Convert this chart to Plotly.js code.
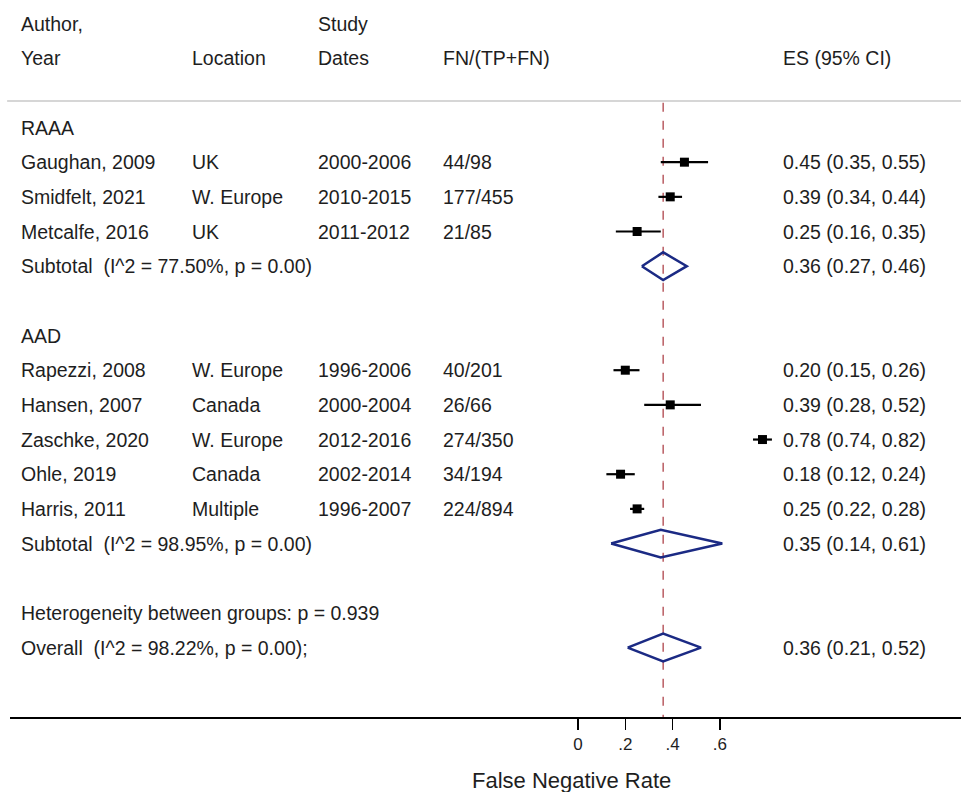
<!DOCTYPE html>
<html>
<head>
<meta charset="utf-8">
<script src="https://cdn.plot.ly/plotly-3.0.1.min.js"></script>
<style>html,body{margin:0;padding:0;background:#fff;}#chart{width:961px;height:792px;}</style>
</head>
<body>
<div id="chart"></div>
<script>
// ---- data ----
const raaaStudies   = ["Gaughan, 2009", "Smidfelt, 2021", "Metcalfe, 2016"];
const raaaLocations = ["UK", "W. Europe", "UK"];
const raaaDates     = ["2000-2006", "2010-2015", "2011-2012"];
const raaaCounts    = ["44/98", "177/455", "21/85"];
const raaaES        = [0.45, 0.39, 0.25];
const raaaLo        = [0.35, 0.34, 0.16];
const raaaHi        = [0.55, 0.44, 0.35];
const raaaSubtotal  = {label: "Subtotal\u00a0\u00a0(I^2 = 77.50%, p = 0.00)", es: 0.36, lo: 0.27, hi: 0.46};

const aadStudies   = ["Rapezzi, 2008", "Hansen, 2007", "Zaschke, 2020", "Ohle, 2019", "Harris, 2011"];
const aadLocations = ["W. Europe", "Canada", "W. Europe", "Canada", "Multiple"];
const aadDates     = ["1996-2006", "2000-2004", "2012-2016", "2002-2014", "1996-2007"];
const aadCounts    = ["40/201", "26/66", "274/350", "34/194", "224/894"];
const aadES        = [0.20, 0.39, 0.78, 0.18, 0.25];
const aadLo        = [0.15, 0.28, 0.74, 0.12, 0.22];
const aadHi        = [0.26, 0.52, 0.82, 0.24, 0.28];
const aadSubtotal  = {label: "Subtotal\u00a0\u00a0(I^2 = 98.95%, p = 0.00)", es: 0.35, lo: 0.14, hi: 0.61};

const heterogeneityText = "Heterogeneity between groups: p = 0.939";
const overall = {label: "Overall\u00a0\u00a0(I^2 = 98.22%, p = 0.00);", es: 0.36, lo: 0.21, hi: 0.52};

const tickVals = [0, 0.2, 0.4, 0.6];
const tickText = ["0", ".2", ".4", ".6"];
const xTitle = "False Negative Rate";

// ---- layout helpers ----
const W = 961, H = 792, ML = 10, MB = 75;
const plotW = W - ML, plotH = H - MB;
const zeroPx = 578, pxPerUnit = 236.5;
const xRange = [(ML - zeroPx) / pxPerUnit, (W - zeroPx) / pxPerUnit];
const rowPx0 = 23.5, rowStep = 34.67;
const yRange = [(plotH - rowPx0) / rowStep, -rowPx0 / rowStep];
const colPx = {author: 19, loc: 190, dates: 316, counts: 441, es: 781};
const px2paper = p => (p - ML) / plotW;

const fontFam = "Arial, 'Liberation Sans', sans-serif";
const txtColor = "#1e1e1e";
const fs = 19.5;
const fmt = v => v.toFixed(2);
const esStr = (e, l, h) => `${fmt(e)} (${fmt(l)}, ${fmt(h)})`;

const annotations = [];
function txt(col, row, s) {
  annotations.push({xref: "paper", yref: "y", x: px2paper(colPx[col]), y: row, text: s,
    showarrow: false, xanchor: "left", yanchor: "middle",
    font: {family: fontFam, size: fs, color: txtColor}});
}

// headers
txt("author", 0, "Author,"); txt("dates", 0, "Study");
txt("author", 1, "Year"); txt("loc", 1, "Location"); txt("dates", 1, "Dates");
txt("counts", 1, "FN/(TP+FN)"); txt("es", 1, "ES (95% CI)");

// rows
const studyRows = [], studyES = [], studyPlus = [], studyMinus = [];
const diamondX = [], diamondY = [];
const diamondHalf = 0.4;
function addDiamond(d, row) {
  diamondX.push(d.lo, d.es, d.hi, d.es, d.lo, null);
  diamondY.push(row, row - diamondHalf, row, row + diamondHalf, row, null);
}
function addGroup(name, startRow, studies, locs, dates, counts, es, lo, hi, sub) {
  txt("author", startRow, name);
  studies.forEach((s, i) => {
    const r = startRow + 1 + i;
    txt("author", r, s); txt("loc", r, locs[i]); txt("dates", r, dates[i]);
    txt("counts", r, counts[i]); txt("es", r, esStr(es[i], lo[i], hi[i]));
    studyRows.push(r); studyES.push(es[i]);
    studyPlus.push(hi[i] - es[i]); studyMinus.push(es[i] - lo[i]);
  });
  const sr = startRow + 1 + studies.length;
  txt("author", sr, sub.label); txt("es", sr, esStr(sub.es, sub.lo, sub.hi));
  addDiamond(sub, sr);
  return sr;
}
let r = addGroup("RAAA", 3, raaaStudies, raaaLocations, raaaDates, raaaCounts, raaaES, raaaLo, raaaHi, raaaSubtotal);
r = addGroup("AAD", r + 2, aadStudies, aadLocations, aadDates, aadCounts, aadES, aadLo, aadHi, aadSubtotal);
txt("author", r + 2, heterogeneityText);
txt("author", r + 3, overall.label); txt("es", r + 3, esStr(overall.es, overall.lo, overall.hi));
addDiamond(overall, r + 3);

annotations.push({xref: "paper", yref: "paper", x: px2paper(571), y: -(780 - plotH) / plotH,
  text: xTitle, showarrow: false, xanchor: "center", yanchor: "middle",
  font: {family: fontFam, size: 22, color: txtColor}});

const sepRow = (101 - rowPx0) / rowStep;

const traces = [
  {type: "scatter", mode: "markers", x: studyES, y: studyRows,
   marker: {symbol: "square", size: 9, color: "#000"},
   error_x: {type: "data", symmetric: false, array: studyPlus, arrayminus: studyMinus,
             color: "#000", thickness: 2.2, width: 0},
   hoverinfo: "skip", showlegend: false},
  {type: "scatter", mode: "lines", x: diamondX, y: diamondY,
   line: {color: "#1b2a84", width: 2.5}, hoverinfo: "skip", showlegend: false}
];

const layout = {
  width: W, height: H,
  margin: {l: ML, r: 0, t: 0, b: MB, pad: 0},
  paper_bgcolor: "#fff", plot_bgcolor: "#fff",
  showlegend: false,
  xaxis: {range: xRange, showgrid: false, zeroline: false, showline: true,
          linecolor: "#000", linewidth: 1.5, tickmode: "array", tickvals: tickVals,
          ticktext: tickText, ticks: "outside", ticklen: 11, tickwidth: 1.5, tickcolor: "#000",
          tickfont: {family: fontFam, size: 17, color: txtColor}, fixedrange: true},
  yaxis: {range: yRange, visible: false, showgrid: false, zeroline: false, fixedrange: true},
  shapes: [
    {type: "line", xref: "paper", yref: "y", x0: -0.003, x1: 1, y0: sepRow, y1: sepRow,
     line: {color: "#c8c8c8", width: 1.5}},
    {type: "line", xref: "x", yref: "y", x0: overall.es, x1: overall.es, y0: sepRow + 0.05, y1: yRange[0],
     line: {color: "#a8343c", width: 1.2, dash: "dash"}, layer: "below"}
  ],
  annotations: annotations
};

Plotly.newPlot("chart", traces, layout, {displayModeBar: false, staticPlot: true});
</script>
</body>
</html>
